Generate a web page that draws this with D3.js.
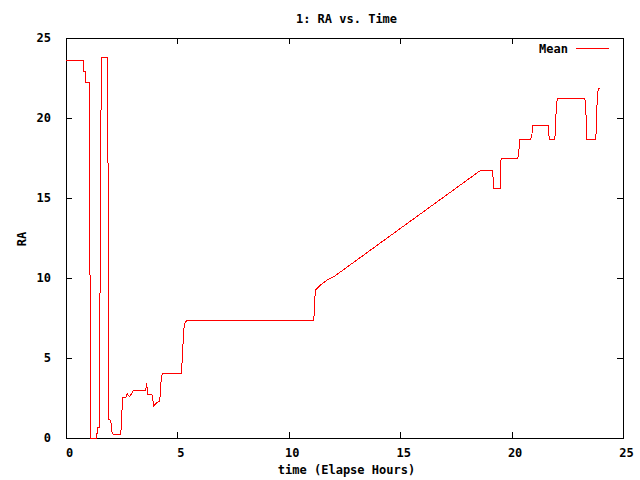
<!DOCTYPE html>
<html>
<head>
<meta charset="utf-8">
<script src="https://cdn.jsdelivr.net/npm/d3@7"></script>
<style>
  html, body { margin: 0; padding: 0; background: #fff; }
  svg text { font-family: "DejaVu Sans Mono", "Liberation Mono", monospace; font-size: 12px; font-weight: bold; fill: #000; }
</style>
</head>
<body>
<svg id="chart" width="640" height="480"></svg>
<script>
// Data (elapsed hours, RA)
const timeHours = [
  0.00, 0.80, 0.80, 0.89, 0.89, 1.04, 1.06, 1.09, 1.12, 1.37, 1.37, 1.43, 1.43, 1.51, 1.52, 1.55, 1.60,
  1.88, 1.89, 1.93, 1.97, 2.03, 2.07, 2.10, 2.46, 2.48, 2.52, 2.53, 2.69, 2.75, 2.79, 2.86, 2.94, 3.01,
  3.57, 3.60, 3.63, 3.64, 3.67, 3.85, 3.88, 3.94, 4.02, 4.09, 4.20, 4.23, 4.27, 4.32, 5.18, 5.21, 5.26,
  5.30, 5.36, 5.44, 11.12, 11.14, 11.19, 11.23, 11.42, 11.72, 12.02, 15.01, 18.55, 18.72, 19.13, 19.16,
  19.20, 19.49, 19.49, 19.53, 20.28, 20.33, 20.37, 20.86, 20.91, 20.95, 21.64, 21.67, 21.72, 21.94, 21.97,
  22.00, 22.05, 23.29, 23.33, 23.38, 23.78, 23.80, 23.84, 23.89, 23.96
];
const raMean = [
  23.58, 23.60, 22.90, 22.90, 22.19, 22.19, 16.65, 5.50, 0.00, 0.00, 0.29, 0.29, 0.63, 0.63, 6.38, 18.00, 23.79,
  23.79, 12.44, 1.13, 1.13, 0.88, 0.30, 0.25, 0.25, 0.79, 1.92, 2.52, 2.52, 2.79, 2.69, 2.60, 2.75, 2.96,
  2.96, 3.17, 3.42, 3.08, 2.75, 2.75, 2.58, 2.00, 2.13, 2.21, 2.31, 2.71, 3.58, 4.06, 4.06, 4.77, 6.13,
  6.96, 7.25, 7.35, 7.35, 7.83, 9.25, 9.29, 9.56, 9.88, 10.08, 13.10, 16.67, 16.73, 16.73, 16.44,
  15.60, 15.60, 16.54, 17.48, 17.48, 18.00, 18.67, 18.67, 18.94, 19.54, 19.54, 18.94, 18.67, 18.67, 19.29,
  20.54, 21.23, 21.23, 20.54, 18.67, 18.67, 19.46, 21.08, 21.85, 21.85
];
const xTicks = [0, 5, 10, 15, 20, 25];
const yTicks = [0, 5, 10, 15, 20, 25];
const titleText = "1: RA vs. Time";
const xLabelText = "time (Elapse Hours)";
const yLabelText = "RA";
const seriesName = "Mean";

const W = 640, H = 480;
const margin = { left: 66, right: 17, top: 38, bottom: 42 };
const svg = d3.select("#chart");

const x = d3.scaleLinear().domain([0, 25]).range([margin.left, W - margin.right]);
const y = d3.scaleLinear().domain([0, 25]).range([H - margin.bottom, margin.top]);

const tickLen = 6;

// Axes (gnuplot style: inward ticks on all four sides)
const gBottom = svg.append("g").attr("transform", `translate(0,${H - margin.bottom})`)
  .call(d3.axisBottom(x).tickValues(xTicks).tickSize(-tickLen).tickPadding(10).tickFormat(d3.format("d")));
const gTop = svg.append("g").attr("transform", `translate(0,${margin.top})`)
  .call(d3.axisTop(x).tickValues(xTicks).tickSize(-tickLen).tickFormat(""));
const gLeft = svg.append("g").attr("transform", `translate(${margin.left},0)`)
  .call(d3.axisLeft(y).tickValues(yTicks).tickSize(-tickLen).tickPadding(15).tickFormat(d3.format("d")));
const gRight = svg.append("g").attr("transform", `translate(${W - margin.right},0)`)
  .call(d3.axisRight(y).tickValues(yTicks).tickSize(-tickLen).tickFormat(""));

[gBottom, gTop, gLeft, gRight].forEach(g => {
  g.select(".domain").remove();
  g.selectAll(".tick line").attr("stroke", "#000").attr("stroke-width", 1).attr("shape-rendering", "crispEdges");
  g.selectAll("text").attr("font-family", null).attr("font-size", null).style("font-weight", "bold");
});
gBottom.selectAll("text").attr("dx", 3);

// Border
svg.append("rect")
  .attr("x", margin.left).attr("y", margin.top)
  .attr("width", W - margin.left - margin.right)
  .attr("height", H - margin.top - margin.bottom)
  .attr("fill", "none").attr("stroke", "#000").attr("stroke-width", 1)
  .attr("shape-rendering", "crispEdges");

// Line
const pts = timeHours.map((t, i) => [t, raMean[i]]);
const line = d3.line().x(d => x(d[0])).y(d => y(d[1]));
svg.append("path").datum(pts)
  .attr("d", line)
  .attr("fill", "none").attr("stroke", "#ff0000").attr("stroke-width", 1)
  .attr("shape-rendering", "crispEdges");

// Title and labels
svg.append("text").attr("x", (margin.left + W - margin.right) / 2 + 2).attr("y", 23)
  .attr("text-anchor", "middle").text(titleText);
svg.append("text").attr("x", (margin.left + W - margin.right) / 2 + 2).attr("y", 474)
  .attr("text-anchor", "middle").text(xLabelText);
svg.append("text").attr("transform", "translate(26,239) rotate(-90)")
  .attr("text-anchor", "middle").text(yLabelText);

// Legend
svg.append("text").attr("x", 568).attr("y", 53).attr("text-anchor", "end").text(seriesName);
svg.append("line").attr("x1", 576).attr("x2", 609).attr("y1", 48.5).attr("y2", 48.5)
  .attr("stroke", "#ff0000").attr("stroke-width", 1).attr("shape-rendering", "crispEdges");
</script>
</body>
</html>
